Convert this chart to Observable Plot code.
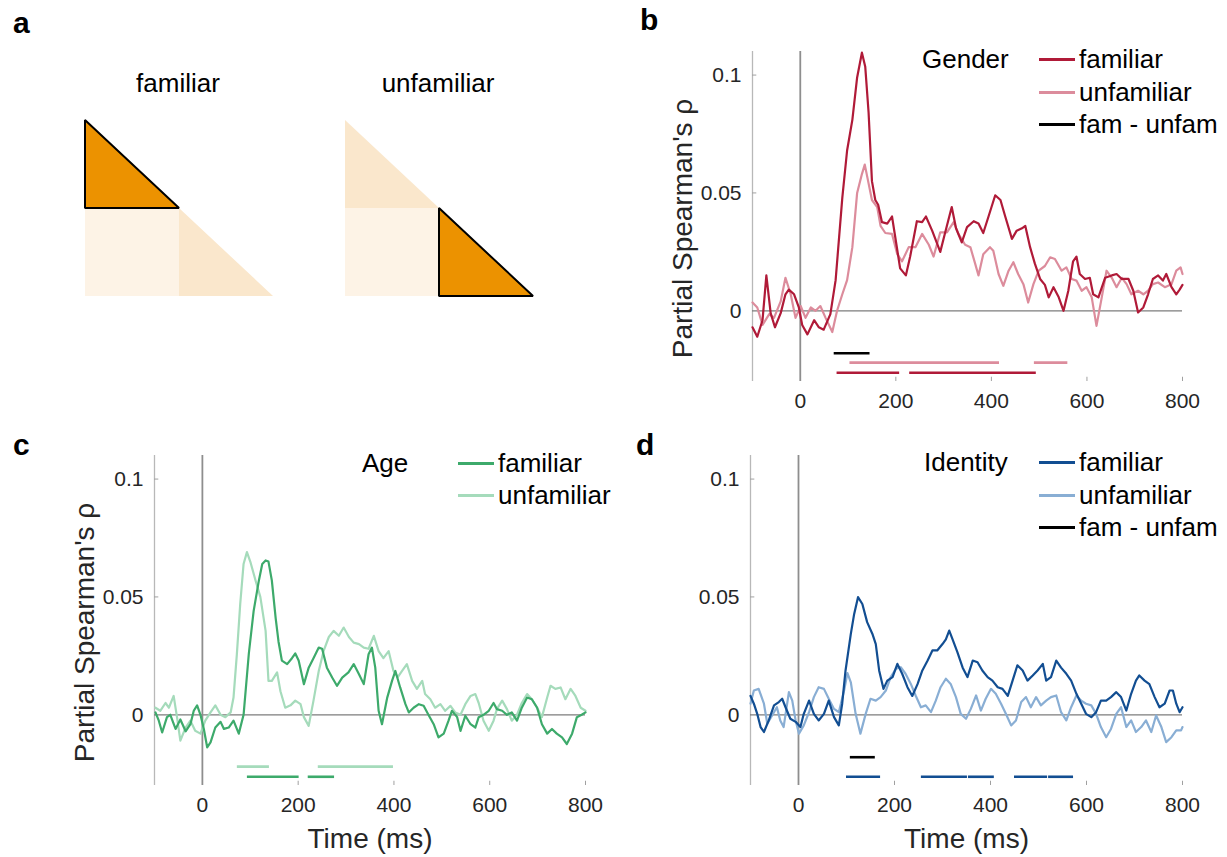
<!DOCTYPE html>
<html><head><meta charset="utf-8">
<script src="https://cdn.jsdelivr.net/npm/d3@7"></script>
<script src="https://cdn.jsdelivr.net/npm/@observablehq/plot@0.6"></script>
<style>
html,body{margin:0;padding:0;background:#fff;}
#fig{position:relative;width:1227px;height:857px;overflow:hidden;font-family:"Liberation Sans",Arial,Helvetica,sans-serif;color:#000;}
.plab{position:absolute;font-weight:bold;font-size:30px;line-height:30px;}
.ttl{position:absolute;font-size:26px;line-height:26px;white-space:nowrap;}
.leg{position:absolute;font-size:26px;line-height:26px;white-space:nowrap;}
.legline{position:absolute;height:3px;}
</style></head><body><div id="fig"></div>
<script>
// ---------- data ----------
const timeTicks = [0, 200, 400, 600, 800];
const rhoTicks = [0, 0.05, 0.1];

const rdmTitles = ["familiar", "unfamiliar"];
const rdmCells = [
  {name: "fam-fam", shape: "triangle", col: 0, row: 0},
  {name: "fam-unfam", shape: "square", col: 0, row: 1},
  {name: "unfam-unfam", shape: "triangle", col: 1, row: 1}
];
const rdmHighlight = {familiar: "fam-fam", unfamiliar: "unfam-unfam"};

const genderFamiliar = [[-100,-0.007],[-90,-0.011],[-79,-0.004],[-71,0.015],[-62,-0.001],[-53,-0.007],[-41,-0.001],[-31,0.007],[-24,0.009],[-13,0.007],[-3,0.0014],[4,-0.006],[15,-0.010],[29,-0.004],[39,-0.007],[49,-0.008],[63,-0.0014],[74,0.013],[88,0.048],[98,0.068],[109,0.081],[119,0.099],[129,0.1095],[136,0.1035],[143,0.084],[150,0.055],[157,0.047],[163,0.045],[171,0.0376],[182,0.037],[192,0.040],[199,0.031],[209,0.018],[221,0.015],[230,0.023],[244,0.038],[255,0.0376],[263,0.040],[276,0.034],[293,0.025],[303,0.033],[317,0.044],[326,0.035],[338,0.029],[349,0.0355],[363,0.038],[373,0.037],[383,0.033],[394,0.040],[408,0.049],[419,0.047],[429,0.040],[443,0.0305],[453,0.034],[464,0.035],[471,0.036],[481,0.027],[491,0.020],[502,0.0135],[512,0.011],[520,0.0057],[530,0.010],[541,0.0057],[551,0],[561,0.0085],[571,0.021],[578,0.023],[585,0.0156],[596,0.0135],[606,0.014],[613,0.007],[624,0.0057],[638,0.014],[652,0.015],[662,0.0156],[673,0.0135],[687,0.0135],[697,0.0085],[707,-0.0007],[718,0.0014],[728,0.007],[738,0.0135],[749,0.015],[759,0.0128],[766,0.0156],[777,0.010],[787,0.007],[794,0.009],[800,0.011]];
const genderUnfamiliar = [[-100,0.0035],[-90,0.0014],[-79,-0.006],[-65,-0.0014],[-55,-0.003],[-41,0.004],[-31,0.014],[-20,0.007],[-10,-0.003],[1,0.002],[11,-0.003],[22,0.0014],[32,0],[42,0.002],[53,-0.003],[67,-0.009],[77,0],[88,0.007],[98,0.013],[109,0.027],[119,0.05],[129,0.058],[135,0.062],[142,0.055],[150,0.047],[161,0.044],[168,0.036],[178,0.033],[192,0.0326],[203,0.024],[213,0.021],[227,0.027],[241,0.027],[255,0.0326],[269,0.028],[279,0.023],[293,0.0333],[307,0.0333],[321,0.0376],[331,0.0326],[345,0.028],[356,0.027],[366,0.020],[373,0.015],[383,0.024],[397,0.027],[404,0.0255],[415,0.0156],[425,0.0106],[436,0.017],[446,0.0206],[456,0.0156],[467,0.0113],[477,0.0035],[488,0.0113],[499,0.017],[512,0.019],[523,0.0227],[533,0.022],[547,0.017],[557,0.0184],[568,0.0135],[578,0.0128],[589,0.0085],[599,0.010],[610,0.0057],[620,-0.0064],[631,0.0057],[641,0.017],[652,0.014],[662,0.010],[673,0.014],[683,0.0113],[693,0.007],[707,0.0085],[718,0.007],[728,0.0085],[738,0.0113],[749,0.012],[763,0.010],[777,0.0113],[787,0.017],[796,0.0184],[800,0.0156]];

const ageFamiliar = [[-98,0.001],[-91,-0.0025],[-84,-0.0075],[-74,-0.001],[-67,0],[-56,-0.006],[-46,-0.002],[-35,-0.007],[-25,-0.004],[-18,0.0017],[-11,0.004],[-4,0],[3,-0.006],[10,-0.0138],[17,-0.0117],[27,-0.0054],[38,-0.003],[45,-0.006],[55,-0.0054],[65,-0.0025],[76,-0.008],[86,0],[97,0.026],[107,0.044],[118,0.057],[125,0.064],[132,0.0655],[138,0.065],[145,0.057],[153,0.041],[159,0.031],[166,0.023],[177,0.0215],[187,0.024],[194,0.026],[201,0.023],[212,0.013],[222,0.020],[232,0.024],[243,0.0285],[250,0.028],[260,0.020],[271,0.0158],[281,0.0123],[292,0.0158],[305,0.018],[316,0.0215],[327,0.0172],[337,0.013],[347,0.0257],[354,0.0285],[361,0.020],[368,0.0017],[375,-0.004],[386,0.0073],[396,0.0144],[403,0.0186],[413,0.0116],[424,0.0045],[431,0.001],[441,0.003],[452,0.0045],[462,0.0038],[472,0],[483,-0.004],[493,-0.0096],[504,-0.008],[514,-0.0025],[521,0.0017],[532,-0.001],[539,-0.0068],[549,-0.0004],[560,-0.004],[570,-0.0054],[577,-0.001],[587,0],[598,0.0017],[608,0.005],[615,0.0024],[626,0.0017],[636,0],[646,0.001],[657,-0.0025],[667,0.003],[678,0.0073],[688,0.0066],[699,0.003],[709,-0.004],[720,-0.008],[730,-0.006],[740,-0.008],[751,-0.0096],[761,-0.0124],[772,-0.008],[782,-0.001],[792,0],[800,0.001]];
const ageUnfamiliar = [[-98,0.003],[-88,0.0017],[-77,0.005],[-70,0.003],[-60,0.008],[-53,-0.001],[-46,-0.011],[-35,-0.0054],[-25,-0.0025],[-15,-0.0068],[-4,-0.008],[6,-0.0025],[17,0.001],[27,0.004],[38,0],[48,-0.001],[59,0.001],[65,0.0073],[72,0.0257],[79,0.047],[86,0.064],[93,0.069],[100,0.065],[111,0.057],[121,0.050],[132,0.0356],[138,0.0144],[145,0.0144],[156,0.018],[163,0.010],[173,0.003],[184,0.004],[194,0.006],[205,0.0045],[212,-0.001],[222,-0.0047],[232,0.006],[243,0.0186],[253,0.027],[264,0.033],[274,0.0356],[285,0.0335],[295,0.037],[306,0.033],[316,0.0306],[327,0.030],[337,0.0285],[347,0.028],[358,0.0335],[368,0.027],[378,0.024],[389,0.027],[399,0.0186],[408,0.016],[417,0.0186],[427,0.0215],[438,0.0144],[448,0.011],[459,0.0144],[465,0.0088],[476,0.0066],[486,0.003],[497,0.0045],[507,0.0017],[518,0.0038],[528,0.001],[539,0],[549,0.0045],[560,0.008],[570,0.0088],[577,0.005],[587,-0.0025],[598,-0.0068],[608,-0.0025],[615,0.0024],[626,0.006],[636,0.0024],[646,-0.0025],[657,0],[667,0.005],[678,0.0088],[688,0.0066],[699,0.003],[709,-0.001],[720,0.0073],[727,0.0123],[737,0.011],[748,0.0116],[758,0.0066],[769,0.011],[779,0.008],[790,0.003],[800,0.0017]];

const identityFamiliar = [[-100,0.008],[-93,0.0047],[-86,0.0004],[-79,-0.0052],[-72,-0.0073],[-62,-0.0024],[-51,0.004],[-41,0.0054],[-34,0.0068],[-27,0.0032],[-17,-0.0017],[-6,-0.003],[4,-0.0052],[11,0.0004],[22,0.006],[32,0.0004],[42,-0.0024],[53,0.0004],[63,0.006],[74,-0.001],[84,-0.0045],[91,0.0047],[98,0.0188],[109,0.0343],[116,0.0428],[124,0.0499],[133,0.047],[143,0.0393],[154,0.0343],[161,0.030],[168,0.0188],[177,0.011],[185,0.0145],[196,0.016],[206,0.0216],[216,0.0174],[227,0.0117],[237,0.008],[248,0.013],[258,0.0188],[269,0.023],[279,0.0273],[289,0.0273],[300,0.030],[307,0.032],[314,0.0357],[321,0.032],[331,0.0266],[342,0.020],[352,0.016],[363,0.023],[373,0.0223],[383,0.0188],[394,0.016],[404,0.0145],[415,0.0117],[425,0.011],[436,0.008],[446,0.0145],[456,0.021],[467,0.0188],[477,0.0145],[488,0.0167],[498,0.0188],[509,0.0216],[516,0.0145],[526,0.016],[537,0.023],[547,0.020],[558,0.0174],[568,0.0145],[579,0.0089],[589,0.0047],[599,0.0004],[610,-0.001],[620,0.0011],[630,0.006],[641,0.006],[651,0.0075],[662,0.0096],[672,0.0075],[683,0.0018],[693,0.0089],[703,0.0145],[710,0.0167],[721,0.0145],[731,0.013],[742,0.0075],[752,0.0032],[763,0.0047],[773,0.0103],[780,0.0103],[787,0.0047],[794,0.0011],[800,0.0032]];
const identityUnfamiliar = [[-100,0.0047],[-93,0.0103],[-83,0.011],[-72,0.0047],[-65,-0.0038],[-55,-0.0003],[-45,0.0032],[-38,-0.0024],[-31,-0.0052],[-20,0.0096],[-13,0.006],[-6,-0.0024],[1,-0.008],[11,-0.0045],[22,0.0011],[32,0.0075],[42,0.0117],[53,0.011],[63,0.0068],[74,0.0025],[84,0.0011],[95,0.0103],[102,0.0177],[109,0.0138],[119,0.0004],[129,-0.008],[140,0.0004],[150,0.0068],[161,0.006],[171,0.0075],[182,0.0103],[192,0.016],[203,0.0195],[213,0.0202],[223,0.0174],[234,0.0131],[244,0.0082],[255,0.0032],[265,0.004],[276,0.0011],[286,0.006],[296,0.0117],[307,0.0153],[317,0.0131],[328,0.0075],[338,0.0004],[349,-0.0017],[359,0.0025],[370,0.0082],[380,0.0018],[390,0.0068],[401,0.011],[411,0.0089],[422,0.0047],[432,0.0004],[443,-0.0045],[453,-0.0024],[464,0.0054],[474,0.0075],[484,0.0032],[495,0.0075],[505,0.004],[516,0.006],[526,0.0075],[537,0.0082],[547,0.0011],[558,-0.0024],[568,0.0032],[579,0.0082],[589,0.006],[599,0.0047],[610,0.004],[620,0.0004],[630,-0.0052],[641,-0.0095],[651,-0.006],[662,0.0004],[672,0.0032],[683,-0.0052],[693,-0.0024],[703,-0.0073],[714,-0.0052],[724,-0.0024],[735,-0.0073],[745,-0.0003],[756,-0.0052],[766,-0.0116],[777,-0.0095],[787,-0.0066],[797,-0.0066],[800,-0.0052]];

// significant time windows (ms)
const genderSig = [
  {series: "diff", start: 71, end: 146},
  {series: "unfam", start: 104, end: 417},
  {series: "unfam", start: 490, end: 560},
  {series: "fam", start: 77, end: 208},
  {series: "fam", start: 229, end: 494}
];
const ageSig = [
  {series: "unfam", start: 73, end: 140},
  {series: "unfam", start: 242, end: 399},
  {series: "fam", start: 94, end: 202},
  {series: "fam", start: 221, end: 276}
];
const identitySig = [
  {series: "diff", start: 108, end: 160},
  {series: "fam", start: 100, end: 171},
  {series: "fam", start: 256, end: 352},
  {series: "fam", start: 354, end: 408},
  {series: "fam", start: 450, end: 519},
  {series: "fam", start: 521, end: 573}
];

const genderLegend = ["familiar", "unfamiliar", "fam - unfam"];
const ageLegend = ["familiar", "unfamiliar"];
const identityLegend = ["familiar", "unfamiliar", "fam - unfam"];

// ---------- drawing ----------
const fig = document.getElementById("fig");
const FONT = "'Liberation Sans', Arial, Helvetica, sans-serif";
const yDomain = [-0.03, 0.11];
const barLevel = {diff: -0.018, unfam: -0.022, fam: -0.0263};

function addDiv(cls, text, left, top, extra) {
  const d = document.createElement("div");
  d.className = cls;
  d.textContent = text;
  d.style.left = left + "px";
  d.style.top = top + "px";
  if (extra) Object.assign(d.style, extra);
  fig.appendChild(d);
  return d;
}

// panel labels
addDiv("plab", "a", 13, 8);
addDiv("plab", "b", 640, 5);
addDiv("plab", "c", 13, 430);
addDiv("plab", "d", 636, 430);

// panel a: RDM schematics
const rdmColors = {highlight: "#EC9200", square: "#FDF3E6", triangle: "#FAE7CC"};
function cellPolygon(c) {
  if (c.shape === "triangle") {
    return [{x: c.col, y1: c.row, y2: c.row + 1}, {x: c.col + 1, y1: c.row + 1, y2: c.row + 1}];
  }
  return [{x: c.col, y1: c.row, y2: c.row + 1}, {x: c.col + 1, y1: c.row, y2: c.row + 1}];
}
rdmTitles.forEach((title, i) => {
  const left = i === 0 ? 79 : 339;
  const hi = rdmHighlight[title];
  const plain = rdmCells.filter(c => c.name !== hi);
  const high = rdmCells.filter(c => c.name === hi);
  const marks = plain.map(c => Plot.areaY(cellPolygon(c), {
    x: "x", y1: "y1", y2: "y2", fill: rdmColors[c.shape]
  })).concat(high.map(c => Plot.areaY(cellPolygon(c), {
    x: "x", y1: "y1", y2: "y2", fill: rdmColors.highlight,
    stroke: "#000", strokeWidth: 2, strokeLinejoin: "miter"
  })));
  const p = Plot.plot({
    width: 200, height: 188,
    margin: 6,
    x: {domain: [0, 2], axis: null},
    y: {domain: [0, 2], reverse: true, axis: null},
    style: {background: "transparent", overflow: "visible"},
    marks
  });
  p.style.position = "absolute";
  p.style.left = left + "px";
  p.style.top = "114px";
  fig.appendChild(p);
  addDiv("ttl", title, left - 1, 70, {width: "200px", textAlign: "center"});
});

function rows(s) { return s.map(([t, v]) => ({t, v})); }
function fmt(d) { return d === 0 ? "0" : String(d); }

function panel(cfg) {
  const colors = {fam: cfg.famColor, unfam: cfg.unfamColor, diff: "#000"};
  const marks = [
    Plot.ruleX([-100], {stroke: "#b8b8b8", strokeWidth: 1.3}),
    Plot.ruleY(rhoTicks.filter(d => d !== 0), {x1: -100, x2: -91, stroke: "#a0a0a0", strokeWidth: 1}),
    Plot.ruleX(timeTicks.filter(d => d > 0), {y1: yDomain[0], y2: yDomain[0] + 0.0018, stroke: "#a0a0a0", strokeWidth: 1}),
    Plot.ruleY([0], {stroke: "#7d7d7d", strokeWidth: 1.3}),
    Plot.ruleX([0], {stroke: "#8e8e8e", strokeWidth: 1.8}),
    Plot.line(rows(cfg.unfam), {x: "t", y: "v", stroke: cfg.unfamColor, strokeWidth: 2.2}),
    Plot.line(rows(cfg.fam), {x: "t", y: "v", stroke: cfg.famColor, strokeWidth: 2.2})
  ];
  ["diff", "unfam", "fam"].forEach(s => {
    const bars = cfg.sig.filter(d => d.series === s);
    if (bars.length) marks.push(Plot.ruleY(bars, {x1: "start", x2: "end", y: () => barLevel[s], stroke: colors[s], strokeWidth: 2.6}));
  });
  if (cfg.yLabel) marks.push(Plot.text([cfg.yLabel], {text: d => d, frameAnchor: "left", textAnchor: "middle", lineAnchor: "middle", rotate: -90, dx: -69, dy: 12, fontSize: 28, fill: "#262626"}));
  if (cfg.xLabel) marks.push(Plot.text([cfg.xLabel], {text: d => d, frameAnchor: "bottom", textAnchor: "middle", lineAnchor: "middle", dy: 54, fontSize: 28, fill: "#262626"}));
  const p = Plot.plot({
    width: cfg.width, height: cfg.height,
    marginLeft: cfg.ml, marginRight: cfg.mr, marginTop: cfg.mt, marginBottom: cfg.mb,
    x: {domain: [-100, 800], ticks: timeTicks, tickSize: 0, tickPadding: 12, tickFormat: d => String(d), label: null},
    y: {domain: yDomain, ticks: rhoTicks, tickSize: 0, tickPadding: 11, tickFormat: fmt, label: null},
    style: {fontFamily: FONT, fontSize: "21px", color: "#262626", background: "transparent", overflow: "visible"},
    marks
  });
  p.style.position = "absolute";
  p.style.left = cfg.left + "px";
  p.style.top = cfg.top + "px";
  fig.appendChild(p);
  // legend
  addDiv("leg", cfg.legendTitle, cfg.lgTitleX, cfg.lgY[0] - 13);
  cfg.legend.forEach((lab, k) => {
    const key = k === 0 ? "fam" : k === 1 ? "unfam" : "diff";
    const ln = document.createElement("div");
    ln.className = "legline";
    ln.style.left = cfg.lgLineX + "px";
    ln.style.width = "36px";
    ln.style.top = (cfg.lgY[k] - 1.5) + "px";
    ln.style.background = colors[key];
    fig.appendChild(ln);
    addDiv("leg", lab, cfg.lgLineX + 40, cfg.lgY[k] - 13);
  });
}

panel({
  fam: genderFamiliar, unfam: genderUnfamiliar, sig: genderSig,
  famColor: "#B01A38", unfamColor: "#DC8C9C",
  yLabel: "Partial Spearman's ρ", xLabel: null,
  left: 640, top: 30, width: 587, height: 400, ml: 112, mr: 45, mt: 21, mb: 49,
  legendTitle: "Gender", lgTitleX: 922, lgLineX: 1039, lgY: [59, 92, 124], legend: genderLegend
});
panel({
  fam: ageFamiliar, unfam: ageUnfamiliar, sig: ageSig,
  famColor: "#3DAA6B", unfamColor: "#A5DBBB",
  yLabel: "Partial Spearman's ρ", xLabel: "Time (ms)",
  left: 40, top: 440, width: 590, height: 417, ml: 114, mr: 45, mt: 15, mb: 72,
  legendTitle: "Age", lgTitleX: 362, lgLineX: 458, lgY: [463, 495], legend: ageLegend
});
panel({
  fam: identityFamiliar, unfam: identityUnfamiliar, sig: identitySig,
  famColor: "#124E92", unfamColor: "#89AED4",
  yLabel: null, xLabel: "Time (ms)",
  left: 640, top: 440, width: 587, height: 417, ml: 110, mr: 45, mt: 15, mb: 72,
  legendTitle: "Identity", lgTitleX: 924, lgLineX: 1039, lgY: [462, 495, 527], legend: identityLegend
});
</script></body></html>
